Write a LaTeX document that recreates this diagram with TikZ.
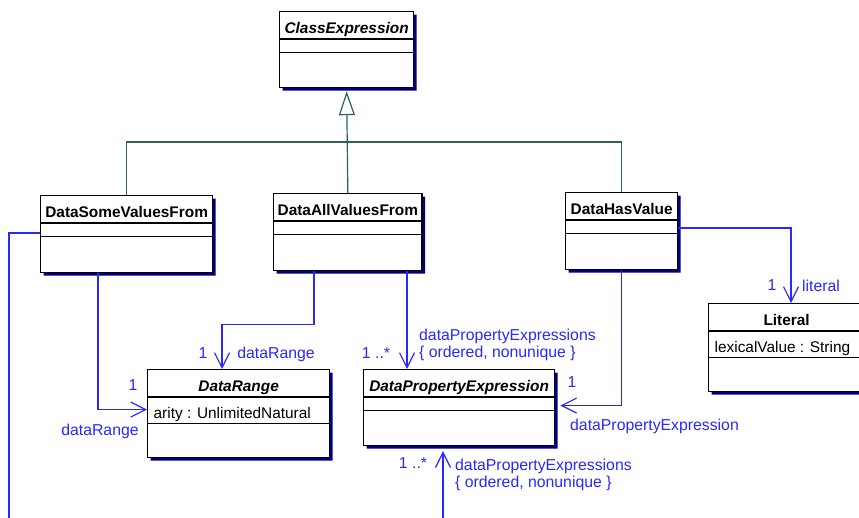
\documentclass[tikz,border=0pt]{standalone}
\usepackage{fontspec}
\setmainfont{Liberation Sans}
\usepackage{tikz}
\usetikzlibrary{arrows.meta, positioning, shapes.multipart, shadows}
\usepackage{xcolor}
\definecolor{assocblue}{RGB}{40, 40, 255}
\definecolor{genteal}{RGB}{47, 96, 96}
\definecolor{shadownavy}{RGB}{0, 0, 128}

\newcommand{\classfont}{\fontsize{15.4}{17.5}\selectfont}
\newcommand{\labelfont}{\fontsize{15.8}{17.5}\selectfont}
\newcommand{\headstrut}{\rule[-5pt]{0pt}{26pt}}
\newcommand{\attrstrut}{\rule[-4pt]{0pt}{25pt}\hspace{2pt}}
\newcommand{\emptystrut}{\rule{0pt}{12pt}}
\newcommand{\opsstrut}{\rule{0pt}{34pt}}

\tikzset{
    umlclass/.style={rectangle split, rectangle split parts=3,
        rectangle split part align={center, left, left},
        draw=black, line width=1.3pt, fill=white, anchor=north west,
        inner xsep=4pt, inner ysep=0pt, font=\classfont,
        drop shadow={shadow xshift=3pt, shadow yshift=-3pt, fill=shadownavy, opacity=1}},
    assoc/.style={assocblue, line width=1.2pt, -{Straight Barb[length=15pt, width=15pt]}},
    genline/.style={genteal, line width=1.2pt},
    assoclabel/.style={text=assocblue, font=\labelfont, inner sep=0pt}
}

\begin{document}
\begin{tikzpicture}[x=1pt, y=-1pt]
    \useasboundingbox (0,0) rectangle (859,518);
    % Clases
    \node[umlclass, minimum width=134pt] (ce) at (279,11) {\headstrut\textbf{\textit{ClassExpression}}\nodepart{two}\emptystrut\nodepart{three}\opsstrut};
    \node[umlclass, minimum width=172pt] (dsv) at (40,195) {\headstrut\textbf{DataSomeValuesFrom}\nodepart{two}\emptystrut\nodepart{three}\rule{0pt}{35pt}};
    \node[umlclass, minimum width=148pt] (davf) at (273,193) {\headstrut\textbf{DataAllValuesFrom}\nodepart{two}\emptystrut\nodepart{three}\rule{0pt}{35pt}};
    \node[umlclass, minimum width=112pt] (dhv) at (565,192) {\headstrut\textbf{DataHasValue}\nodepart{two}\emptystrut\nodepart{three}\rule{0pt}{35pt}};
    \node[umlclass, minimum width=182pt] (dr) at (147,369) {\headstrut\textbf{\textit{DataRange}}\nodepart{two}\attrstrut arity : UnlimitedNatural\nodepart{three}\rule{0pt}{33pt}};
    \node[umlclass, minimum width=191pt] (dpe) at (363,369) {\headstrut\textbf{\textit{DataPropertyExpression}}\nodepart{two}\emptystrut\nodepart{three}\opsstrut};
    \node[umlclass, minimum width=156pt] (lit) at (708,303) {\headstrut\textbf{Literal}\nodepart{two}\attrstrut lexicalValue : String\nodepart{three}\rule{0pt}{33pt}};

    % Generalizacion
    \coordinate (genbar) at (348,142);
    \draw[genline] (dsv.north) |- (genbar) -| (dhv.north);
    \draw[genline, -{Triangle[open, length=24pt, width=16pt, fill=white]}] (davf.north) -- ([yshift=-3pt]ce.south);

    % Asociaciones
    \coordinate (offleft) at (9,530);
    \coordinate (offbottom) at (443,530);
    \draw[assoc, -] ([yshift=-38pt]dsv.north west) -| (offleft);
    \draw[assoc] ([xshift=58pt]dsv.south west) |- ([yshift=4pt]dr.west);
    \draw[assoc] ([xshift=41pt]davf.south west) -- ++(0,53) -| ([xshift=75pt]dr.north west);
    \draw[assoc] ([xshift=134pt]davf.south west) -- ([xshift=44pt]dpe.north west);
    \draw[assoc] (dhv.south) |- ([xshift=5pt, yshift=2pt]dpe.east);
    \draw[assoc] ([yshift=-36pt]dhv.north east) -| ([xshift=83pt]lit.north west);
    \draw[assoc] (offbottom) -- ([xshift=80pt, yshift=-5pt]dpe.south west);

    % Etiquetas
    \node[assoclabel] (drmulta) at (133,385) {1};
    \node[assoclabel] (drrolea) at (100,431) {dataRange};
    \node[assoclabel] (drmultb) at (203,353) {1};
    \node[assoclabel] (drroleb) at (276,354) {dataRange};
    \node[assoclabel] (dpemulta) at (376,353) {1 ..*};
    \node[assoclabel, anchor=west, align=left] (dperolea) at (419,345) {dataPropertyExpressions\\\{ ordered, nonunique \}};
    \node[assoclabel] (dpemultb) at (572,382) {1};
    \node[assoclabel, anchor=west] (dperoleb) at (570,426) {dataPropertyExpression};
    \node[assoclabel] (dpemultc) at (413,463) {1 ..*};
    \node[assoclabel, anchor=west, align=left] (dperolec) at (455,475) {dataPropertyExpressions\\\{ ordered, nonunique \}};
    \node[assoclabel] (litmult) at (772,285) {1};
    \node[assoclabel, anchor=west] (litrole) at (802,286) {literal};
\end{tikzpicture}
\end{document}
